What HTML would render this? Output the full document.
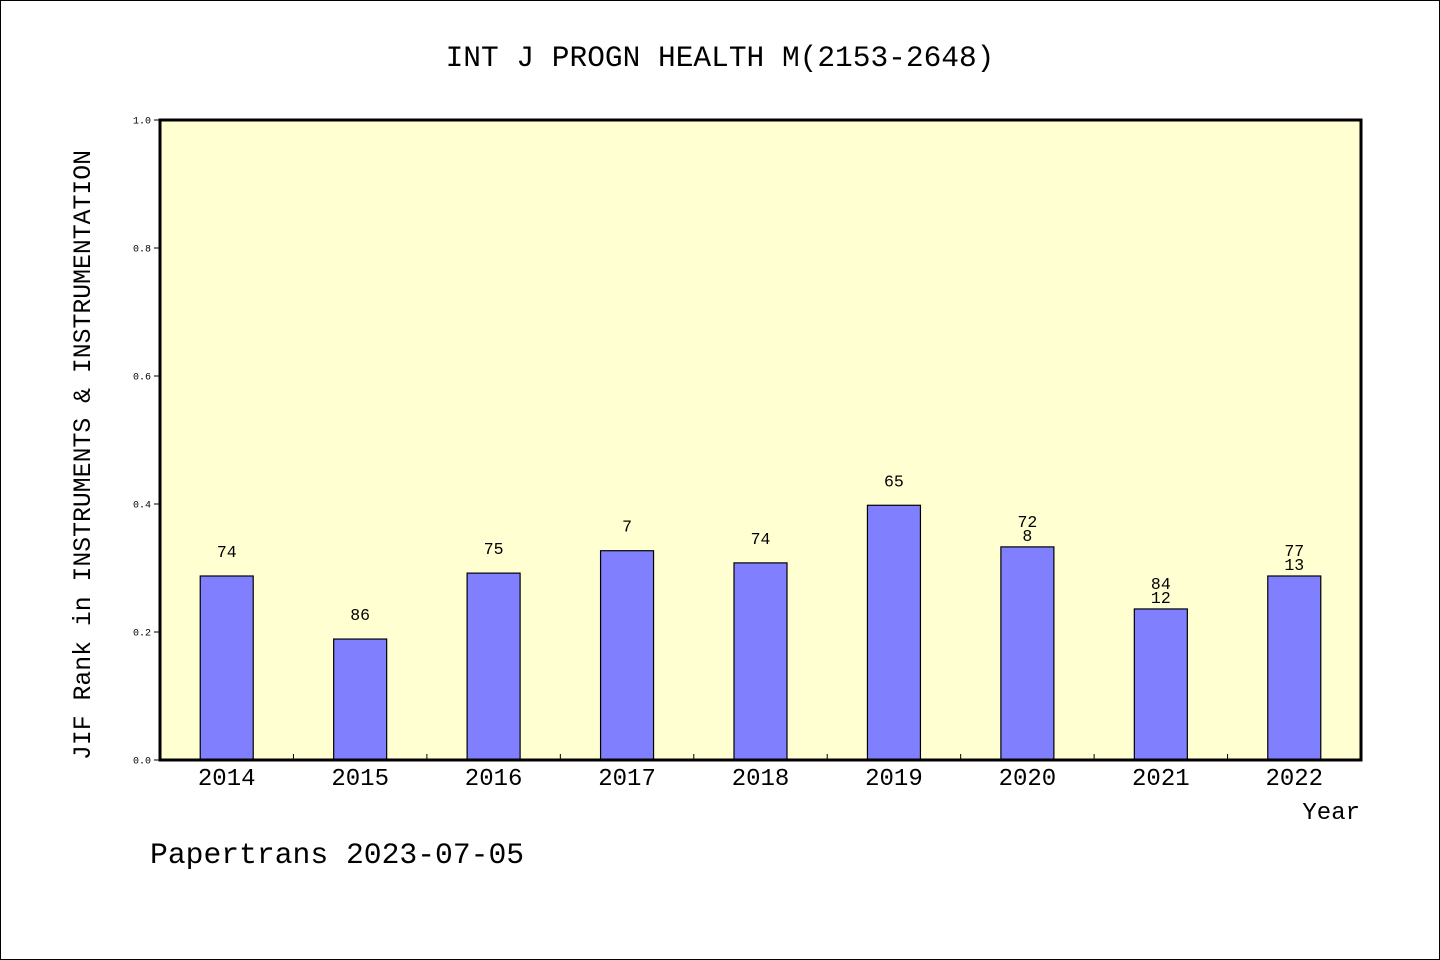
<!DOCTYPE html>
<html><head><meta charset="utf-8"><style>
html,body{margin:0;padding:0;background:#fff;}
svg{display:block;}
text{font-family:"Liberation Mono","WenQuanYi Zen Hei",monospace;fill:#000;}
</style></head><body>
<svg id="chart" width="1440" height="960">
<rect x="0.5" y="0.5" width="1439" height="959" fill="#fff" stroke="#000"/>
<text x="720" y="66" font-size="29.5" text-anchor="middle">INT J PROGN HEALTH M(2153-2648)</text>
<rect x="160" y="120" width="1201" height="640" fill="#ffffd2"/>
<g id="bars"></g>
<g id="ticks"></g>
<rect x="160" y="120" width="1201" height="640" fill="none" stroke="#000" stroke-width="3"/>
<text transform="translate(90,455) rotate(-90)" font-size="24.8" text-anchor="middle">JIF Rank in INSTRUMENTS &amp; INSTRUMENTATION</text>
<text x="1360" y="819" font-size="24" text-anchor="end">Year</text>
<text x="150" y="863" font-size="29.7">Papertrans 2023-07-05</text>
</svg>
<script>
const categories = ["2014","2015","2016","2017","2018","2019","2020","2021","2022"];
const values = [0.2875,0.189,0.292,0.327,0.308,0.398,0.333,0.236,0.2875];
const labelTop = ["74","86","75","7","74","65","72","84","77"];
const labelBottom = ["","","","","","","8","12","13"];
const yTicks = [0,0.2,0.4,0.6,0.8,1.0];
const yTickLabels = ["0.0","0.2","0.4","0.6","0.8","1.0"];
const NS="http://www.w3.org/2000/svg";
const X0=160,X1=1361,Y0=760,Y1=120;
const band=(X1-X0)/categories.length;
function xc(i){return X0+band*(i+0.5);}
function yy(v){return Y0-v*(Y0-Y1);}
function mk(tag,attrs,parent){const e=document.createElementNS(NS,tag);for(const k in attrs)e.setAttribute(k,attrs[k]);parent.appendChild(e);return e;}
const bars=document.getElementById('bars'),ticks=document.getElementById('ticks');
categories.forEach((c,i)=>{
  const top=yy(values[i]);
  const r=mk('rect',{x:xc(i)-26.5,y:top,width:53,height:Y0-top,fill:'#8080ff',stroke:'#000','stroke-width':1.2},bars);
  
  
  const two=labelBottom[i]!=="";
  const t1=mk('text',{x:xc(i),y:two?top-20:top-19,'font-size':16.5,'text-anchor':'middle'},bars);
  t1.textContent=labelTop[i];
  
  
  if(two){
    const t2=mk('text',{x:xc(i),y:top-6,'font-size':16.5,'text-anchor':'middle'},bars);
    t2.textContent=labelBottom[i];
    
    
  }
  const xl=mk('text',{x:xc(i),y:785,'font-size':24,'text-anchor':'middle'},ticks);
  xl.textContent=c;
  
  
  if(i>0){
    const tk=mk('line',{x1:X0+band*i,x2:X0+band*i,y1:Y0,y2:Y0-6,stroke:'#000'},ticks);
    
    
  }
});
yTicks.forEach((v,i)=>{
  const yp=yy(v);
  const l=mk('line',{x1:X0-6,x2:X0,y1:yp,y2:yp,stroke:'#000'},ticks);
  
  
  const t=mk('text',{x:X0-9,y:yp+3.5,'font-size':10,'text-anchor':'end'},ticks);
  t.textContent=yTickLabels[i];
  
  
});
</script>
</body></html>
